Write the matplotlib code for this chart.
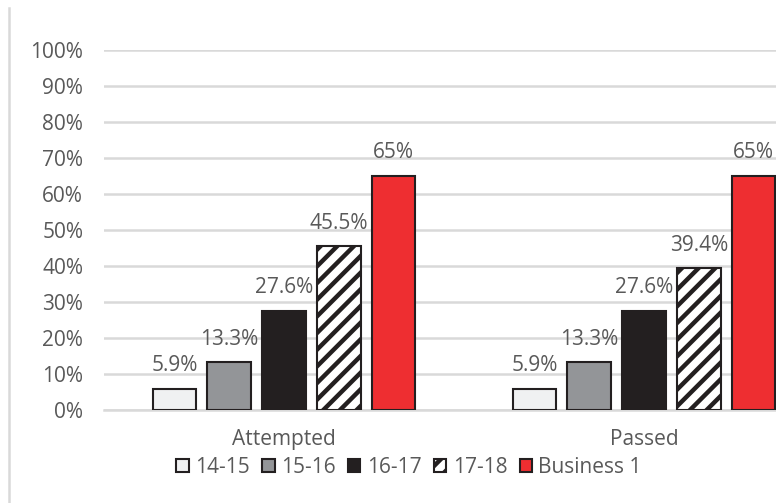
import matplotlib.pyplot as plt
import matplotlib.lines as mlines
import numpy as np

plt.rcParams['font.family'] = ['Open Sans', 'DejaVu Sans']
plt.rcParams['hatch.linewidth'] = 3.2

categories = ['Attempted', 'Passed']
series = ['14-15', '15-16', '16-17', '17-18', 'Business 1']
values = {
    '14-15': [5.9, 5.9],
    '15-16': [13.3, 13.3],
    '16-17': [27.6, 27.6],
    '17-18': [45.5, 39.4],
    'Business 1': [65, 65],
}
labels = {
    '14-15': ['5.9%', '5.9%'],
    '15-16': ['13.3%', '13.3%'],
    '16-17': ['27.6%', '27.6%'],
    '17-18': ['45.5%', '39.4%'],
    'Business 1': ['65%', '65%'],
}

face = ['#f0f1f2', '#939598', '#231f20', 'white', '#ee2e31']
hatches = [None, None, None, '//', None]
edge = '#231f20'
txt = '#595959'
grid = '#d9d9d9'
fs = 15

fig = plt.figure(figsize=(7.76, 5.03), dpi=100)
# plot area runs past the right edge of the figure
ax = fig.add_axes([104 / 776, 93 / 503, 720 / 776, 360 / 503])

x = np.arange(len(categories))
width = 0.1215
step = 0.152
for i, s in enumerate(series):
    pos = x + (i - 2) * step
    bars = ax.bar(pos, values[s], width, color=face[i], edgecolor=edge,
                  linewidth=1.5, hatch=hatches[i], label=s, zorder=3)
    for b, lab in zip(bars, labels[s]):
        ax.annotate(lab, (b.get_x() + b.get_width() / 2, b.get_height()),
                    xytext=(0, 9), textcoords='offset points',
                    ha='center', va='bottom', fontsize=fs, color=txt)

ax.set_xlim(-0.5, 1.5)
ax.set_ylim(0, 100)
ax.set_yticks(np.arange(0, 101, 10))
ax.set_yticklabels([f'{v}%' for v in range(0, 101, 10)])
ax.set_xticks(x)
ax.set_xticklabels(categories)
ax.tick_params(axis='both', length=0, labelsize=fs, labelcolor=txt)
ax.tick_params(axis='y', pad=15)
ax.tick_params(axis='x', pad=14)
ax.yaxis.grid(True, color=grid, linewidth=1.8, zorder=0)
ax.set_axisbelow(True)
for side in ['top', 'right', 'left']:
    ax.spines[side].set_visible(False)
ax.spines['bottom'].set_color(grid)
ax.spines['bottom'].set_linewidth(1.8)

leg = fig.legend(loc='center', bbox_to_anchor=(0.527, 0.071), ncol=5,
                 frameon=False, fontsize=fs, handlelength=0.6,
                 handleheight=0.6, handletextpad=0.3, columnspacing=0.6)
for t in leg.get_texts():
    t.set_color(txt)

# chart border on the left
fig.add_artist(mlines.Line2D([9 / 776, 9 / 776], [0, 495 / 503],
                             color=grid, linewidth=1.8))

fig.savefig('out.png', dpi=100)
